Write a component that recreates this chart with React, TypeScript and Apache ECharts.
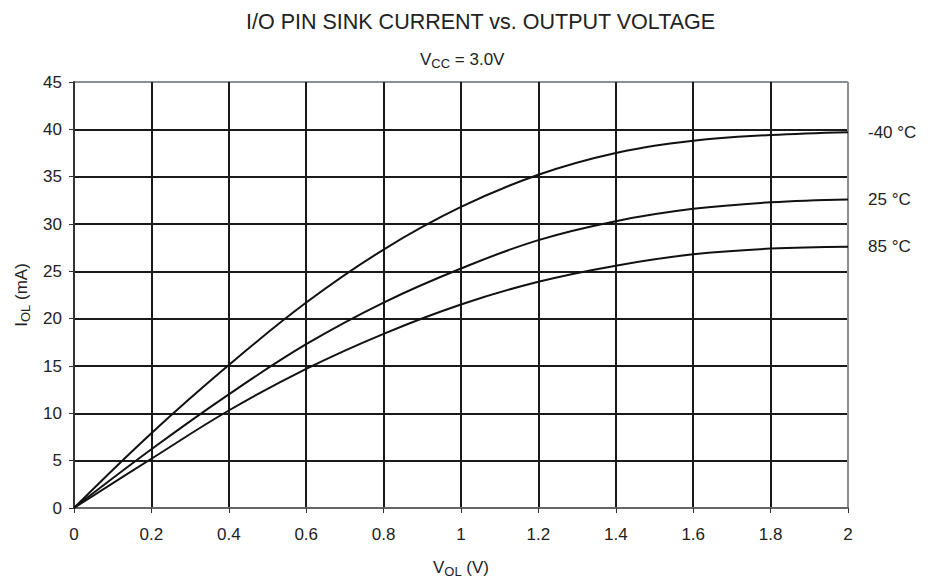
import React, { useEffect, useRef } from "react";
import * as echarts from "echarts";

const voltages = [0, 0.2, 0.4, 0.6, 0.8, 1.0, 1.2, 1.4, 1.6, 1.8, 2.0];
const currentM40 = [0, 7.9, 15.1, 21.7, 27.3, 31.8, 35.2, 37.5, 38.8, 39.4, 39.7];
const current25 = [0, 6.2, 12.0, 17.3, 21.7, 25.3, 28.3, 30.3, 31.6, 32.3, 32.6];
const current85 = [0, 5.2, 10.3, 14.7, 18.4, 21.5, 23.9, 25.6, 26.8, 27.4, 27.6];
const seriesNames = ["-40 °C", "25 °C", "85 °C"];
const seriesValues = [currentM40, current25, current85];

const FONT = "'Liberation Sans', Arial, sans-serif";
const GRID = "#1a1a1a";
const BORDER = "#8a8f96";
const TXT = "#222";

const richSub = {
  a: { fontFamily: FONT, fontSize: 17, color: TXT },
  b: { fontFamily: FONT, fontSize: 13, color: TXT, padding: [8, 0, 0, 0] },
};

export default function App() {
  const ref = useRef<HTMLDivElement>(null);
  useEffect(() => {
    if (!ref.current) return;
    const chart = echarts.init(ref.current, null, { renderer: "svg" });
    const xSplit = [GRID, GRID, GRID, GRID, GRID, GRID, GRID, GRID, GRID, GRID, BORDER];
    const ySplit = ["#666", GRID, GRID, GRID, GRID, GRID, GRID, GRID, GRID, BORDER];
    chart.setOption({
      animation: false,
      backgroundColor: "#fff",
      title: [
        {
          text: "I/O PIN SINK CURRENT vs. OUTPUT VOLTAGE",
          left: 241,
          top: 6,
          textStyle: { fontFamily: FONT, fontSize: 21.5, fontWeight: "normal", color: TXT },
        },
        {
          text: "{a|V}{b|CC}{a| = 3.0V}",
          left: 415,
          top: 44,
          textStyle: { fontFamily: FONT, fontWeight: "normal", rich: richSub },
        },
      ],
      grid: { left: 74, right: 85, top: 82, bottom: 75 },
      xAxis: {
        type: "value",
        min: 0,
        max: 2,
        interval: 0.2,
        name: "{a|V}{b|OL}{a| (V)}",
        nameLocation: "middle",
        nameGap: 49,
        nameTextStyle: { rich: richSub },
        axisLine: { show: true, onZero: false, lineStyle: { color: "#666", width: 2 } },
        axisTick: { show: true, length: 5, lineStyle: { color: "#333" } },
        axisLabel: { fontFamily: FONT, fontSize: 17, color: TXT, margin: 18 },
        splitLine: { show: true, lineStyle: { color: xSplit, width: 2 } },
      },
      yAxis: {
        type: "value",
        min: 0,
        max: 45,
        interval: 5,
        name: "{a|I}{b|OL}{a| (mA)}",
        nameLocation: "middle",
        nameGap: 42,
        nameRotate: 90,
        nameTextStyle: { rich: richSub },
        axisLine: { show: true, lineStyle: { color: "#333", width: 2 } },
        axisTick: { show: true, length: 5, lineStyle: { color: "#333" } },
        axisLabel: { fontFamily: FONT, fontSize: 17, color: TXT, margin: 12 },
        splitLine: { show: true, lineStyle: { color: ySplit, width: 2 } },
      },
      series: seriesValues.map((vals, i) => ({
        type: "line",
        name: seriesNames[i],
        data: voltages.map((v, j) => [v, vals[j]]),
        smooth: 0.4,
        symbol: "none",
        lineStyle: { color: "#111", width: 2 },
        z: 5,
        endLabel: {
          show: true,
          formatter: seriesNames[i],
          distance: 20,
          fontFamily: FONT,
          fontSize: 17,
          color: TXT,
        },
      })),
    });
    return () => chart.dispose();
  }, []);
  return <div ref={ref} style={{ width: 933, height: 583, position: "absolute", left: 0, top: 0 }} />;
}
